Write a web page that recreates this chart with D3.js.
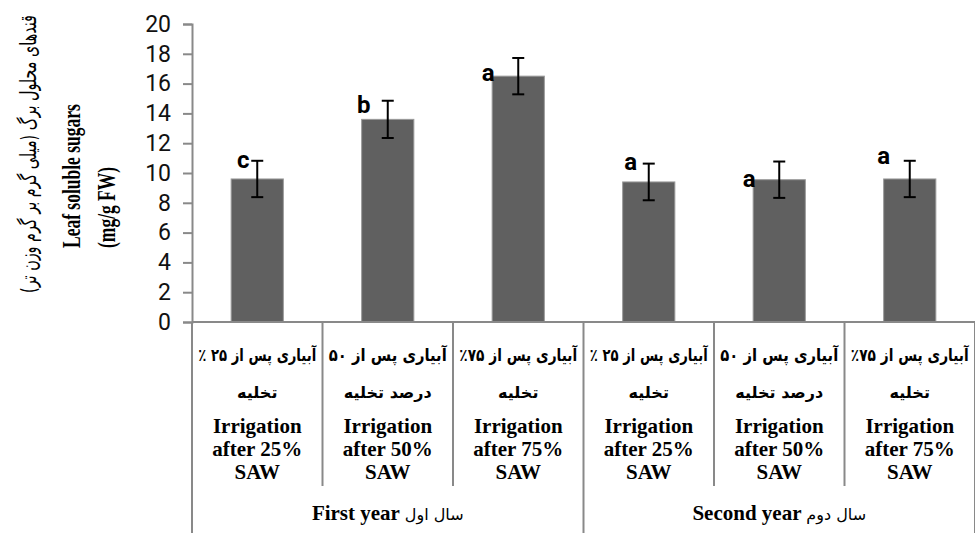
<!DOCTYPE html>
<html>
<head>
<meta charset="utf-8">
<script src="https://cdn.jsdelivr.net/npm/d3@7"></script>
<style>
  body { margin: 0; background: #fff; }
  svg { display: block; }
  .tick text { font-family: Roboto, "Noto Sans", sans-serif; }
</style>
</head>
<body>
<div id="chart"></div>
<script>
// data
const years = ["First year", "Second year"];
const yearsFa = ["سال اول", "سال دوم"];
const treatmentsEn = [
  ["Irrigation", "after 25%", "SAW"],
  ["Irrigation", "after 50%", "SAW"],
  ["Irrigation", "after 75%", "SAW"]
];
const treatmentsFa1 = ["آبیاری پس از ۲۵ ٪", "آبیاری پس از ۵۰", "آبیاری پس از ۷۵٪"];
const treatmentsFa2 = ["تخلیه", "درصد تخلیه", "تخلیه"];
const means = [9.6, 13.6, 16.5, 9.4, 9.55, 9.6];
const errors = [1.22, 1.25, 1.22, 1.23, 1.22, 1.22];
const letters = ["c", "b", "a", "a", "a", "a"];
const yTicks = [0, 2, 4, 6, 8, 10, 12, 14, 16, 18, 20];

const width = 975, height = 533;
const margin = {left: 192, right: 0, top: 24, bottom: 211};
const axisColor = '#898989';
const serif = '"Liberation Serif", "Times New Roman", serif';
const arabic = '"DejaVu Sans", sans-serif';

// letter placement relative to the top of the error bar (dx, dy)
const letterOffsets = [[-14, 7], [-24, 12], [-30, 23], [-18, 6], [-30, 25], [-26, 3]];

const bars = means.map((m, i) => ({
  id: i,
  year: Math.floor(i / 3),
  t: i % 3,
  mean: m,
  err: errors[i],
  letter: letters[i]
}));

// squeeze a text horizontally so it fits a given width
function fitWidth(sel, target, prefix) {
  sel.each(function() {
    const w = this.getComputedTextLength();
    const k = w > target ? target / w : 1;
    d3.select(this).attr('transform', `${prefix || ''} scale(${k},1)`);
  });
}

const svg = d3.select('#chart').append('svg')
  .attr('width', width)
  .attr('height', height);

const x = d3.scaleBand()
  .domain(bars.map(d => d.id))
  .range([margin.left, width - margin.right])
  .padding(0);

const y = d3.scaleLinear()
  .domain([0, 20])
  .range([height - margin.bottom, margin.top]);

const y0 = y(0);
const barW = x.bandwidth() * 0.4;

// y axis
const yAxis = svg.append('g')
  .attr('transform', `translate(${margin.left},0)`)
  .call(d3.axisLeft(y).tickValues(yTicks).tickSize(9).tickPadding(12).tickFormat(d3.format('d')));
yAxis.select('.domain').attr('stroke', axisColor).attr('stroke-width', 2);
yAxis.selectAll('.tick line').attr('stroke', axisColor).attr('stroke-width', 2);
yAxis.selectAll('.tick text')
  .attr('font-size', 23)
  .attr('fill', '#111');

// bars
svg.selectAll('.bar')
  .data(bars)
  .enter().append('rect')
  .attr('class', 'bar')
  .attr('x', d => x(d.id) + (x.bandwidth() - barW) / 2)
  .attr('width', barW)
  .attr('y', d => y(d.mean))
  .attr('height', d => y0 - y(d.mean))
  .attr('fill', '#606060')
  .attr('stroke', '#9a9a9a')
  .attr('stroke-width', 1);

// error bars
const eb = svg.selectAll('.err')
  .data(bars)
  .enter().append('g')
  .attr('class', 'err')
  .attr('transform', d => `translate(${x(d.id) + x.bandwidth() / 2},0)`)
  .attr('stroke', '#000')
  .attr('stroke-width', 2);
eb.append('line')
  .attr('y1', d => y(d.mean + d.err))
  .attr('y2', d => y(d.mean - d.err));
eb.append('line')
  .attr('x1', -6).attr('x2', 6)
  .attr('y1', d => y(d.mean + d.err))
  .attr('y2', d => y(d.mean + d.err));
eb.append('line')
  .attr('x1', -6).attr('x2', 6)
  .attr('y1', d => y(d.mean - d.err))
  .attr('y2', d => y(d.mean - d.err));

// significance letters
svg.selectAll('.letter')
  .data(bars)
  .enter().append('text')
  .attr('class', 'letter')
  .attr('x', d => x(d.id) + x.bandwidth() / 2 + letterOffsets[d.id][0])
  .attr('y', d => y(d.mean + d.err) + letterOffsets[d.id][1])
  .attr('text-anchor', 'middle')
  .attr('font-family', 'Roboto, "DejaVu Sans", sans-serif')
  .attr('font-weight', 'bold')
  .attr('font-size', 24)
  .attr('fill', '#000')
  .text(d => d.letter);

// category axis: baseline and dividers
svg.append('line')
  .attr('x1', margin.left).attr('x2', width)
  .attr('y1', y0).attr('y2', y0)
  .attr('stroke', axisColor).attr('stroke-width', 2);

const bounds = d3.range(bars.length + 1).map(i =>
  i < bars.length ? x(i) : x(bars.length - 1) + x.bandwidth());
svg.selectAll('.divider')
  .data(bounds)
  .enter().append('line')
  .attr('class', 'divider')
  .attr('x1', d => d).attr('x2', d => d)
  .attr('y1', y0)
  .attr('y2', (d, i) => i % 3 === 0 ? height : 486)
  .attr('stroke', axisColor).attr('stroke-width', 2);

// category labels
const cat = svg.selectAll('.cat')
  .data(bars)
  .enter().append('g')
  .attr('class', 'cat')
  .attr('transform', d => `translate(${x(d.id) + x.bandwidth() / 2},0)`);

cat.append('text')
  .attr('y', 361)
  .attr('direction', 'rtl')
  .attr('text-anchor', 'middle')
  .attr('font-family', arabic)
  .attr('font-weight', 'bold')
  .attr('font-size', 17)
  .text(d => treatmentsFa1[d.t])
  .call(fitWidth, 118);

cat.append('text')
  .attr('y', 398)
  .attr('direction', 'rtl')
  .attr('text-anchor', 'middle')
  .attr('font-family', arabic)
  .attr('font-weight', 'bold')
  .attr('font-size', 16)
  .text(d => treatmentsFa2[d.t]);

cat.each(function(d) {
  const g = d3.select(this);
  treatmentsEn[d.t].forEach((line, k) => {
    g.append('text')
      .attr('y', 433 + k * 23)
      .attr('text-anchor', 'middle')
      .attr('font-family', serif)
      .attr('font-weight', 'bold')
      .attr('font-size', 21)
      .text(line);
  });
});

// year labels
const yearG = svg.selectAll('.year')
  .data(years)
  .enter().append('text')
  .attr('class', 'year')
  .attr('x', (d, i) => (bounds[i * 3] + bounds[i * 3 + 3]) / 2)
  .attr('y', 520)
  .attr('text-anchor', 'middle')
  .attr('font-family', serif);
yearG.append('tspan')
  .attr('font-weight', 'bold')
  .attr('font-size', 21)
  .text(d => d + ' ');
yearG.append('tspan')
  .attr('font-family', arabic)
  .attr('font-size', 16)
  .text((d, i) => yearsFa[i]);

// y axis title
svg.append('text')
  .attr('direction', 'rtl')
  .attr('text-anchor', 'middle')
  .attr('font-family', arabic)
  .attr('font-size', 22)
  .text('قندهای محلول برگ (میلی گرم بر گرم وزن تر)')
  .call(fitWidth, 278, 'translate(36,154) rotate(-90)');

svg.append('text')
  .attr('transform', 'translate(80,248) rotate(-90) scale(0.7,1)')
  .attr('font-family', serif)
  .attr('font-weight', 'bold')
  .attr('font-size', 25)
  .text('Leaf soluble sugars');

svg.append('text')
  .attr('transform', 'translate(115,248) rotate(-90) scale(0.7,1)')
  .attr('font-family', serif)
  .attr('font-weight', 'bold')
  .attr('font-size', 25)
  .text('(mg/g FW)');
</script>
</body>
</html>
